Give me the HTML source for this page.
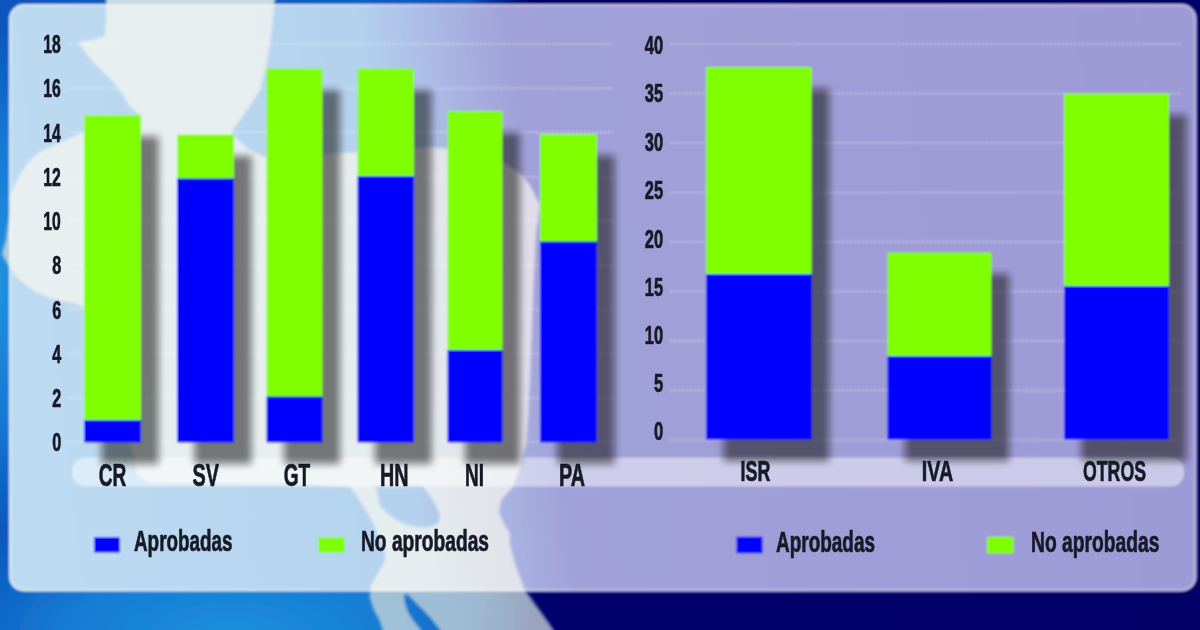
<!DOCTYPE html>
<html><head><meta charset="utf-8">
<style>
html,body{margin:0;padding:0;background:#000066;}
body{width:1200px;height:630px;overflow:hidden;font-family:"Liberation Sans",sans-serif;}
svg{display:block;}
text{font-family:"Liberation Sans",sans-serif;font-weight:bold;fill:#181a28;stroke:#181a28;stroke-width:0.7px;stroke-linejoin:round;}
</style></head><body>
<svg width="1200" height="630" viewBox="0 0 1200 630">
<defs>
  <linearGradient id="bg" x1="0" y1="0" x2="1" y2="0">
    <stop offset="0" stop-color="#0a56be"/>
    <stop offset="0.30" stop-color="#0a60c4"/>
    <stop offset="0.39" stop-color="#0856ba"/>
    <stop offset="0.445" stop-color="#00006c"/>
    <stop offset="1" stop-color="#000066"/>
  </linearGradient>
  <radialGradient id="glow" gradientUnits="userSpaceOnUse" cx="0" cy="0" r="1" gradientTransform="translate(230 640) scale(330 150)">
    <stop offset="0" stop-color="#1e90de" stop-opacity="1"/>
    <stop offset="0.5" stop-color="#1a88da" stop-opacity="0.75"/>
    <stop offset="1" stop-color="#1478d0" stop-opacity="0"/>
  </radialGradient>
  <radialGradient id="glow2" gradientUnits="userSpaceOnUse" cx="0" cy="0" r="1" gradientTransform="translate(-4 280) scale(80 260)">
    <stop offset="0" stop-color="#2294e0" stop-opacity="1"/>
    <stop offset="0.55" stop-color="#1c88da" stop-opacity="0.7"/>
    <stop offset="1" stop-color="#1478d0" stop-opacity="0"/>
  </radialGradient>
  <linearGradient id="mapunder" x1="0" y1="0" x2="0" y2="1">
    <stop offset="0" stop-color="#dcece6" stop-opacity="0.9"/>
    <stop offset="0.3" stop-color="#d4e0de" stop-opacity="0.8"/>
    <stop offset="1" stop-color="#d0d8d8" stop-opacity="0.74"/>
  </linearGradient>
  <linearGradient id="panel" gradientUnits="userSpaceOnUse" x1="9" y1="45" x2="1197" y2="-96">
    <stop offset="0" stop-color="#bcdaf1"/>
    <stop offset="0.29" stop-color="#b4d2ee"/>
    <stop offset="0.35" stop-color="#abbae5"/>
    <stop offset="0.415" stop-color="#a1a1d9"/>
    <stop offset="1" stop-color="#9d99d5"/>
  </linearGradient>
  <filter id="sh" filterUnits="userSpaceOnUse" x="0" y="0" width="1200" height="630"><feGaussianBlur stdDeviation="3.8"/></filter>
  <filter id="soft" filterUnits="userSpaceOnUse" x="-20" y="-20" width="1240" height="670"><feGaussianBlur stdDeviation="0.9"/></filter>
  <filter id="tsoft" filterUnits="userSpaceOnUse" x="-20" y="-20" width="1240" height="670"><feGaussianBlur stdDeviation="0.55"/></filter>
  <filter id="mapblur" filterUnits="userSpaceOnUse" x="-20" y="-20" width="1240" height="670"><feGaussianBlur stdDeviation="1.2"/></filter>
  <clipPath id="pclip"><rect x="9" y="4" width="1187.5" height="587.5" rx="15" ry="15"/></clipPath>
  <path id="mapshape" fill-rule="evenodd" d="M106,-8 L106,20 L105,36 L92,40 L78,42 L84,50 L91,60 L103,72 L115,84 L124,97 L131,108 L141,116 L120,124 L84,132 L61,142 L38,153 L26,165 L19,176 L13,188 L9.5,199 L11,210 L8,225 L6,240 L2,254 L7.6,264 L15,275 L23,283 L36,292 L49.5,298 L76,304 L90,310 L105,340 L120,400 L132,450 L138,476 L150,483 L300,484 L350,487 L358,498 L365,509 L374,525 L380,539.5 L385,552 L385,560.6 L378,573 L371,584.7 L369.7,597 L374,610 L380,621 L385,638 L425,638 L421,630 L413,620 L408,612 L405,603 L404,595 L407,594 L415,602 L425,612 L433,621 L440,630 L445,638 L556,638 L553,630 L549,624 L536,606 L525,590.7 L516,566.6 L510,545.5 L510,533.5 L503,522 L499,512 L501,500 L513,487 L520,468 L526,445 L528,420 L530,380 L533,300 L536,235 L540,205 L530,185 L520,173 L500,160 L470,151 L430,147 L390,150 L340,153 L300,156 L265,157 L250,150 L238,140 L231,133 L241,119 L252,103 L260,90 L266,68 L269.5,47.6 L273,20 L275.5,-8 Z M376,486 L380,506 L388,514 L398,521 L408,525 L419.5,527.4 L430,527 L437.6,524 L440,518 L439,512 L434,502 L428.5,494 L422.5,486 Z"/>
</defs>
<g filter="url(#soft)">
<rect x="-10" y="-10" width="1220" height="650" fill="url(#bg)"/>
<rect x="-10" y="-10" width="700" height="650" fill="url(#glow)"/>
<rect x="-10" y="-10" width="200" height="650" fill="url(#glow2)"/>
<!-- map under panel -->
<use href="#mapshape" fill="url(#mapunder)" filter="url(#mapblur)"/>
<!-- panel -->
<rect x="9" y="4" width="1187.5" height="587.5" rx="15" ry="15" fill="url(#panel)"/>
<rect x="10.5" y="5.5" width="1184.5" height="584.5" rx="13.5" ry="13.5" fill="none" stroke="#ffffff" stroke-opacity="0.22" stroke-width="3"/>
<!-- map over panel -->
<g clip-path="url(#pclip)"><use href="#mapshape" fill="#fffaf0" fill-opacity="0.66" filter="url(#mapblur)"/></g>
<!-- gridlines -->
<g stroke="#ffffff" stroke-opacity="0.48" stroke-width="1.6" stroke-dasharray="2 2">
<line x1="68" y1="44.0" x2="613" y2="44.0"/>
<line x1="68" y1="88.2" x2="613" y2="88.2"/>
<line x1="68" y1="132.4" x2="613" y2="132.4"/>
<line x1="68" y1="176.7" x2="613" y2="176.7"/>
<line x1="68" y1="220.9" x2="613" y2="220.9"/>
<line x1="68" y1="265.1" x2="613" y2="265.1"/>
<line x1="68" y1="309.3" x2="613" y2="309.3"/>
<line x1="68" y1="353.5" x2="613" y2="353.5"/>
<line x1="68" y1="397.8" x2="613" y2="397.8"/>
<line x1="68" y1="442.0" x2="613" y2="442.0"/>
<line x1="670" y1="44.0" x2="1182" y2="44.0"/>
<line x1="670" y1="93.5" x2="1182" y2="93.5"/>
<line x1="670" y1="143.0" x2="1182" y2="143.0"/>
<line x1="670" y1="192.5" x2="1182" y2="192.5"/>
<line x1="670" y1="242.0" x2="1182" y2="242.0"/>
<line x1="670" y1="291.5" x2="1182" y2="291.5"/>
<line x1="670" y1="341.0" x2="1182" y2="341.0"/>
<line x1="670" y1="390.5" x2="1182" y2="390.5"/>
<line x1="670" y1="440.0" x2="1182" y2="440.0"/>
</g>
<!-- label band -->
<rect x="72" y="457.5" width="1112" height="29" rx="13" ry="13" fill="#ffffff" fill-opacity="0.47"/>
<!-- shadows -->
<g fill="#101014" fill-opacity="0.55" filter="url(#sh)">
<rect x="101.5" y="136.5" width="57" height="327.5"/>
<rect x="194.5" y="156.0" width="57" height="308.0"/>
<rect x="284.0" y="90.0" width="56.0" height="374.0"/>
<rect x="375.0" y="90.0" width="56.5" height="374.0"/>
<rect x="465.0" y="132.5" width="55.0" height="331.5"/>
<rect x="557.5" y="155.5" width="57" height="308.5"/>
<rect x="723.5" y="88.5" width="105.70000000000005" height="372.6"/>
<rect x="905.0" y="274.0" width="104.0" height="187.10000000000002"/>
<rect x="1081.5" y="115.0" width="105" height="346.1"/>
</g>
<!-- bars -->
<rect x="84" y="115" width="57" height="305.5" fill="#80ff00"/>
<rect x="84" y="420" width="57" height="22.5" fill="#0000ff"/>
<rect x="177" y="134.5" width="57" height="44.5" fill="#80ff00"/>
<rect x="177" y="178.5" width="57" height="264.0" fill="#0000ff"/>
<rect x="266.5" y="68.5" width="56.0" height="328.5" fill="#80ff00"/>
<rect x="266.5" y="396.5" width="56.0" height="46.0" fill="#0000ff"/>
<rect x="357.5" y="68.5" width="56.5" height="108.0" fill="#80ff00"/>
<rect x="357.5" y="176" width="56.5" height="266.5" fill="#0000ff"/>
<rect x="447.5" y="111" width="55.0" height="239.5" fill="#80ff00"/>
<rect x="447.5" y="350" width="55.0" height="92.5" fill="#0000ff"/>
<rect x="540" y="134" width="57" height="108.0" fill="#80ff00"/>
<rect x="540" y="241.5" width="57" height="201.0" fill="#0000ff"/>
<rect x="706" y="67" width="105.70000000000005" height="207.5" fill="#80ff00"/>
<rect x="706" y="274" width="105.70000000000005" height="165.60000000000002" fill="#0000ff"/>
<rect x="887.5" y="252.5" width="104.0" height="104.0" fill="#80ff00"/>
<rect x="887.5" y="356" width="104.0" height="83.60000000000002" fill="#0000ff"/>
<rect x="1064" y="93.5" width="105" height="193.0" fill="#80ff00"/>
<rect x="1064" y="286" width="105" height="153.60000000000002" fill="#0000ff"/>
<!-- legend swatches -->
<rect x="94" y="537" width="26" height="15.5" fill="#0000ff"/>
<rect x="318" y="537" width="27" height="15.5" fill="#80ff00"/>
<rect x="736.5" y="536.7" width="26" height="16.6" fill="#0000ff"/>
<rect x="987" y="536.7" width="26.5" height="16.6" fill="#80ff00"/>
</g>
<!-- text -->
<g filter="url(#tsoft)">
<text x="43.3" y="53.2" font-size="25" textLength="17.5" lengthAdjust="spacingAndGlyphs" text-anchor="start">18</text>
<text x="43.3" y="97.4" font-size="25" textLength="17.5" lengthAdjust="spacingAndGlyphs" text-anchor="start">16</text>
<text x="43.3" y="141.6" font-size="25" textLength="17.5" lengthAdjust="spacingAndGlyphs" text-anchor="start">14</text>
<text x="43.3" y="185.89999999999998" font-size="25" textLength="17.5" lengthAdjust="spacingAndGlyphs" text-anchor="start">12</text>
<text x="43.3" y="230.1" font-size="25" textLength="17.5" lengthAdjust="spacingAndGlyphs" text-anchor="start">10</text>
<text x="52.3" y="274.3" font-size="25" textLength="9" lengthAdjust="spacingAndGlyphs" text-anchor="start">8</text>
<text x="52.3" y="318.5" font-size="25" textLength="9" lengthAdjust="spacingAndGlyphs" text-anchor="start">6</text>
<text x="52.3" y="362.8" font-size="25" textLength="9" lengthAdjust="spacingAndGlyphs" text-anchor="start">4</text>
<text x="52.3" y="407.0" font-size="25" textLength="9" lengthAdjust="spacingAndGlyphs" text-anchor="start">2</text>
<text x="52.3" y="451.2" font-size="25" textLength="9" lengthAdjust="spacingAndGlyphs" text-anchor="start">0</text>
<text x="644.8" y="53.6" font-size="25.5" textLength="18.3" lengthAdjust="spacingAndGlyphs" text-anchor="start">40</text>
<text x="644.8" y="102.1" font-size="25.5" textLength="18.3" lengthAdjust="spacingAndGlyphs" text-anchor="start">35</text>
<text x="644.8" y="150.6" font-size="25.5" textLength="18.3" lengthAdjust="spacingAndGlyphs" text-anchor="start">30</text>
<text x="644.8" y="199.1" font-size="25.5" textLength="18.3" lengthAdjust="spacingAndGlyphs" text-anchor="start">25</text>
<text x="644.8" y="247.6" font-size="25.5" textLength="18.3" lengthAdjust="spacingAndGlyphs" text-anchor="start">20</text>
<text x="644.8" y="295.6" font-size="25.5" textLength="18.3" lengthAdjust="spacingAndGlyphs" text-anchor="start">15</text>
<text x="644.8" y="343.6" font-size="25.5" textLength="18.3" lengthAdjust="spacingAndGlyphs" text-anchor="start">10</text>
<text x="654" y="392.1" font-size="25.5" textLength="9.2" lengthAdjust="spacingAndGlyphs" text-anchor="start">5</text>
<text x="654" y="440.1" font-size="25.5" textLength="9.2" lengthAdjust="spacingAndGlyphs" text-anchor="start">0</text>
<text x="98.7" y="485.5" font-size="32" textLength="27.5" lengthAdjust="spacingAndGlyphs" text-anchor="start">CR</text>
<text x="192.5" y="485.5" font-size="32" textLength="26.5" lengthAdjust="spacingAndGlyphs" text-anchor="start">SV</text>
<text x="283.7" y="485.5" font-size="32" textLength="26.5" lengthAdjust="spacingAndGlyphs" text-anchor="start">GT</text>
<text x="380" y="485.5" font-size="32" textLength="28.5" lengthAdjust="spacingAndGlyphs" text-anchor="start">HN</text>
<text x="465" y="485.5" font-size="32" textLength="19" lengthAdjust="spacingAndGlyphs" text-anchor="start">NI</text>
<text x="559" y="485.5" font-size="32" textLength="26" lengthAdjust="spacingAndGlyphs" text-anchor="start">PA</text>
<text x="740.6" y="480.8" font-size="29.5" textLength="29.8" lengthAdjust="spacingAndGlyphs" text-anchor="start">ISR</text>
<text x="921.7" y="480.8" font-size="29.5" textLength="31.5" lengthAdjust="spacingAndGlyphs" text-anchor="start">IVA</text>
<text x="1083" y="480.8" font-size="29.5" textLength="63" lengthAdjust="spacingAndGlyphs" text-anchor="start">OTROS</text>
<text x="134" y="551" font-size="29" textLength="98.5" lengthAdjust="spacingAndGlyphs" text-anchor="start">Aprobadas</text>
<text x="361" y="551" font-size="29" textLength="128" lengthAdjust="spacingAndGlyphs" text-anchor="start">No aprobadas</text>
<text x="776" y="552" font-size="29" textLength="99" lengthAdjust="spacingAndGlyphs" text-anchor="start">Aprobadas</text>
<text x="1031" y="552" font-size="29" textLength="128.5" lengthAdjust="spacingAndGlyphs" text-anchor="start">No aprobadas</text>
</g>
</svg>
</body></html>
